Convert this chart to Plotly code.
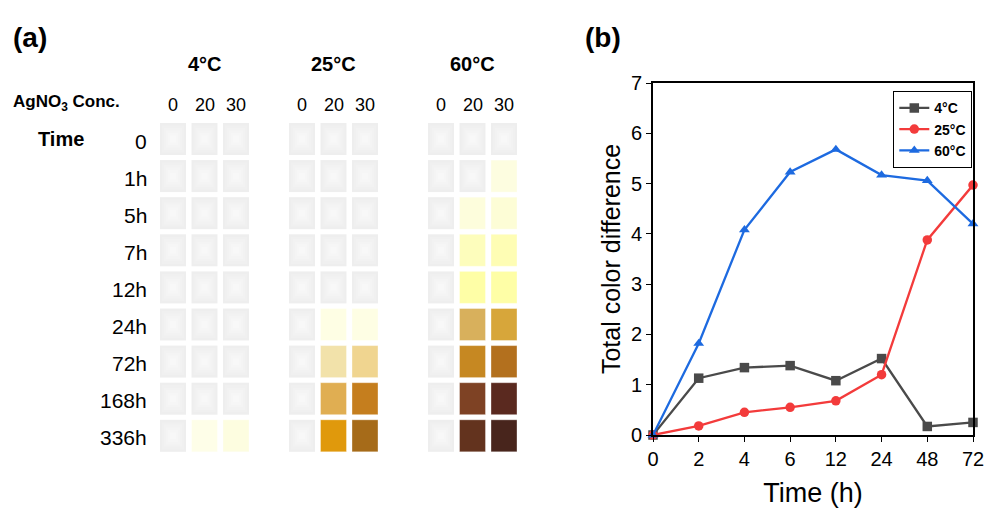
import plotly.graph_objects as go

# ---------------- data ----------------
TEMPS = ["4°C", "25°C", "60°C"]
CONCS = ["0", "20", "30"]
TIMES = ["0", "1h", "5h", "7h", "12h", "24h", "72h", "168h", "336h"]

# observed solution colour per (time, AgNO3 conc.); None = colourless
CELLS_4C = [
    [None, None, None], [None, None, None], [None, None, None],
    [None, None, None], [None, None, None], [None, None, None],
    [None, None, None], [None, None, None], [None, "#fefee8", "#fdfde0"],
]
CELLS_25C = [
    [None, None, None], [None, None, None], [None, None, None],
    [None, None, None], [None, None, None], [None, "#fefee4", "#fefee4"],
    [None, "#f2e2aa", "#f0d590"], [None, "#e0ae52", "#c57e1e"],
    [None, "#e0990c", "#a66b19"],
]
CELLS_60C = [
    [None, None, None], [None, None, "#fdfde0"], [None, "#fdfddc", "#fdfdd6"],
    [None, "#fdfdbc", "#fefdb4"], [None, "#fefea6", "#fefea6"],
    [None, "#d8b05c", "#d7a63a"], [None, "#c68822", "#b3701e"],
    [None, "#7e4224", "#5a291f"], [None, "#63331e", "#48251c"],
]

TIME_H = ["0", "2", "4", "6", "12", "24", "48", "72"]
DE_4C = [0.0, 1.13, 1.34, 1.38, 1.08, 1.52, 0.17, 0.25]
DE_25C = [0.0, 0.18, 0.45, 0.55, 0.68, 1.20, 3.88, 4.97]
DE_60C = [0.0, 1.82, 4.08, 5.23, 5.68, 5.17, 5.06, 4.20]

# ---------------- styling ----------------
W, H = 988, 520
FONT = "Liberation Sans, Arial, sans-serif"
GROUP_LEFT = [160, 289, 428]
PITCH_X, CELL_W = 31.5, 26
ROW_TOP0, PITCH_Y, CELL_H = 123, 37.1, 32
EMPTY_SHADES = ["#eeeeee", "#f0f0f0", "#f2f2f2", "#f4f4f4", "#f6f6f6", "#f8f8f8"]


def txt(size, bold=False):
    return dict(family=FONT, size=size, color="black", weight="bold" if bold else "normal")


fig = go.Figure()
shapes, annotations = [], []

# panel (a): swatch grid, drawn on a pixel-scaled axis pair (x, y)
for g, (temp, grid) in enumerate(zip(TEMPS, [CELLS_4C, CELLS_25C, CELLS_60C])):
    for r, row in enumerate(grid):
        for c, col in enumerate(row):
            x0 = GROUP_LEFT[g] + c * PITCH_X
            y0 = ROW_TOP0 + r * PITCH_Y
            if col is None:
                for k, shade in enumerate(EMPTY_SHADES):
                    ins = k * 2.0
                    shapes.append(dict(type="rect", xref="x", yref="y",
                                       x0=x0 + ins, x1=x0 + CELL_W - ins,
                                       y0=y0 + ins * 1.25, y1=y0 + CELL_H - ins * 1.25,
                                       fillcolor=shade, line=dict(width=0), layer="below"))
            else:
                shapes.append(dict(type="rect", xref="x", yref="y",
                                   x0=x0, x1=x0 + CELL_W, y0=y0, y1=y0 + CELL_H,
                                   fillcolor=col,
                                   line=dict(width=1, color="rgba(255,255,255,0.35)"),
                                   layer="below"))
    mid = GROUP_LEFT[g] + PITCH_X + CELL_W / 2
    annotations.append(dict(x=mid, y=64, xref="x", yref="y", text=temp,
                            showarrow=False, font=txt(20, True)))
    for c, conc in enumerate(CONCS):
        annotations.append(dict(x=GROUP_LEFT[g] + c * PITCH_X + CELL_W / 2, y=105,
                                xref="x", yref="y", text=conc, showarrow=False,
                                font=txt(18)))

for r, t in enumerate(TIMES):
    annotations.append(dict(x=149, y=ROW_TOP0 + r * PITCH_Y + CELL_H / 2 + 2, xref="x", yref="y",
                            text=t, showarrow=False, xanchor="right", font=txt(21)))

annotations += [
    dict(x=11, y=37, xref="x", yref="y", text="(a)", showarrow=False, xanchor="left",
         font=txt(28, True)),
    dict(x=11, y=103, xref="x", yref="y", text="AgNO<sub>3</sub> Conc.", showarrow=False,
         xanchor="left", font=txt(17, True)),
    dict(x=61, y=139, xref="x", yref="y", text="Time", showarrow=False, font=txt(20, True)),
    dict(x=603, y=37, xref="x", yref="y", text="(b)", showarrow=False, font=txt(28, True)),
]

# invisible anchor trace for the pixel axis pair
fig.add_trace(go.Scatter(x=[W / 2], y=[H / 2], mode="markers", marker=dict(opacity=0),
                         showlegend=False, hoverinfo="skip", xaxis="x", yaxis="y"))

# panel (b): total colour difference vs time
series = [("4°C", DE_4C, "#4a4a4a", "square"),
          ("25°C", DE_25C, "#f33b3b", "circle"),
          ("60°C", DE_60C, "#1d6ae0", "triangle-up")]
for name, vals, color, sym in series:
    fig.add_trace(go.Scatter(x=list(range(len(TIME_H))), y=vals, name=name,
                             mode="lines+markers", xaxis="x2", yaxis="y2",
                             line=dict(color=color, width=2.3),
                             marker=dict(symbol=sym, size=9.5, color=color),
                             cliponaxis=False))

X0, X1 = 653 / W, 973 / W
Y0, Y1 = (H - 435) / H, (H - 83) / H

fig.update_layout(
    width=W, height=H, margin=dict(l=0, r=0, t=0, b=0, autoexpand=False),
    paper_bgcolor="white", plot_bgcolor="white",
    shapes=shapes, annotations=annotations,
    xaxis=dict(domain=[0, 1], range=[0, W], visible=False, fixedrange=True, automargin=False),
    yaxis=dict(domain=[0, 1], range=[H, 0], visible=False, fixedrange=True, automargin=False),
    xaxis2=dict(domain=[X0, X1], anchor="y2", range=[0, len(TIME_H) - 1],
                tickvals=list(range(len(TIME_H))), ticktext=TIME_H,
                showline=True, mirror=True, linecolor="black", linewidth=1.6,
                ticks="outside", ticklen=5, tickwidth=1.4, tickcolor="black",
                showgrid=False, zeroline=False, automargin=False,
                tickfont=txt(20),
                title=dict(text="Time (h)", standoff=14, font=txt(27))),
    yaxis2=dict(domain=[Y0, Y1], anchor="x2", range=[0, 7], dtick=1,
                showline=True, mirror=True, linecolor="black", linewidth=1.6,
                ticks="outside", ticklen=5, tickwidth=1.4, tickcolor="black",
                showgrid=False, zeroline=False, automargin=False,
                tickfont=txt(20),
                title=dict(text="Total color difference", standoff=3, font=txt(25))),
    legend=dict(x=893 / W, y=(H - 91) / H, xanchor="left", yanchor="top",
                bordercolor="black", borderwidth=1.3, bgcolor="white",
                font=txt(14, True), tracegroupgap=0, itemwidth=30),
    showlegend=True,
)

fig.write_html("out.html")
